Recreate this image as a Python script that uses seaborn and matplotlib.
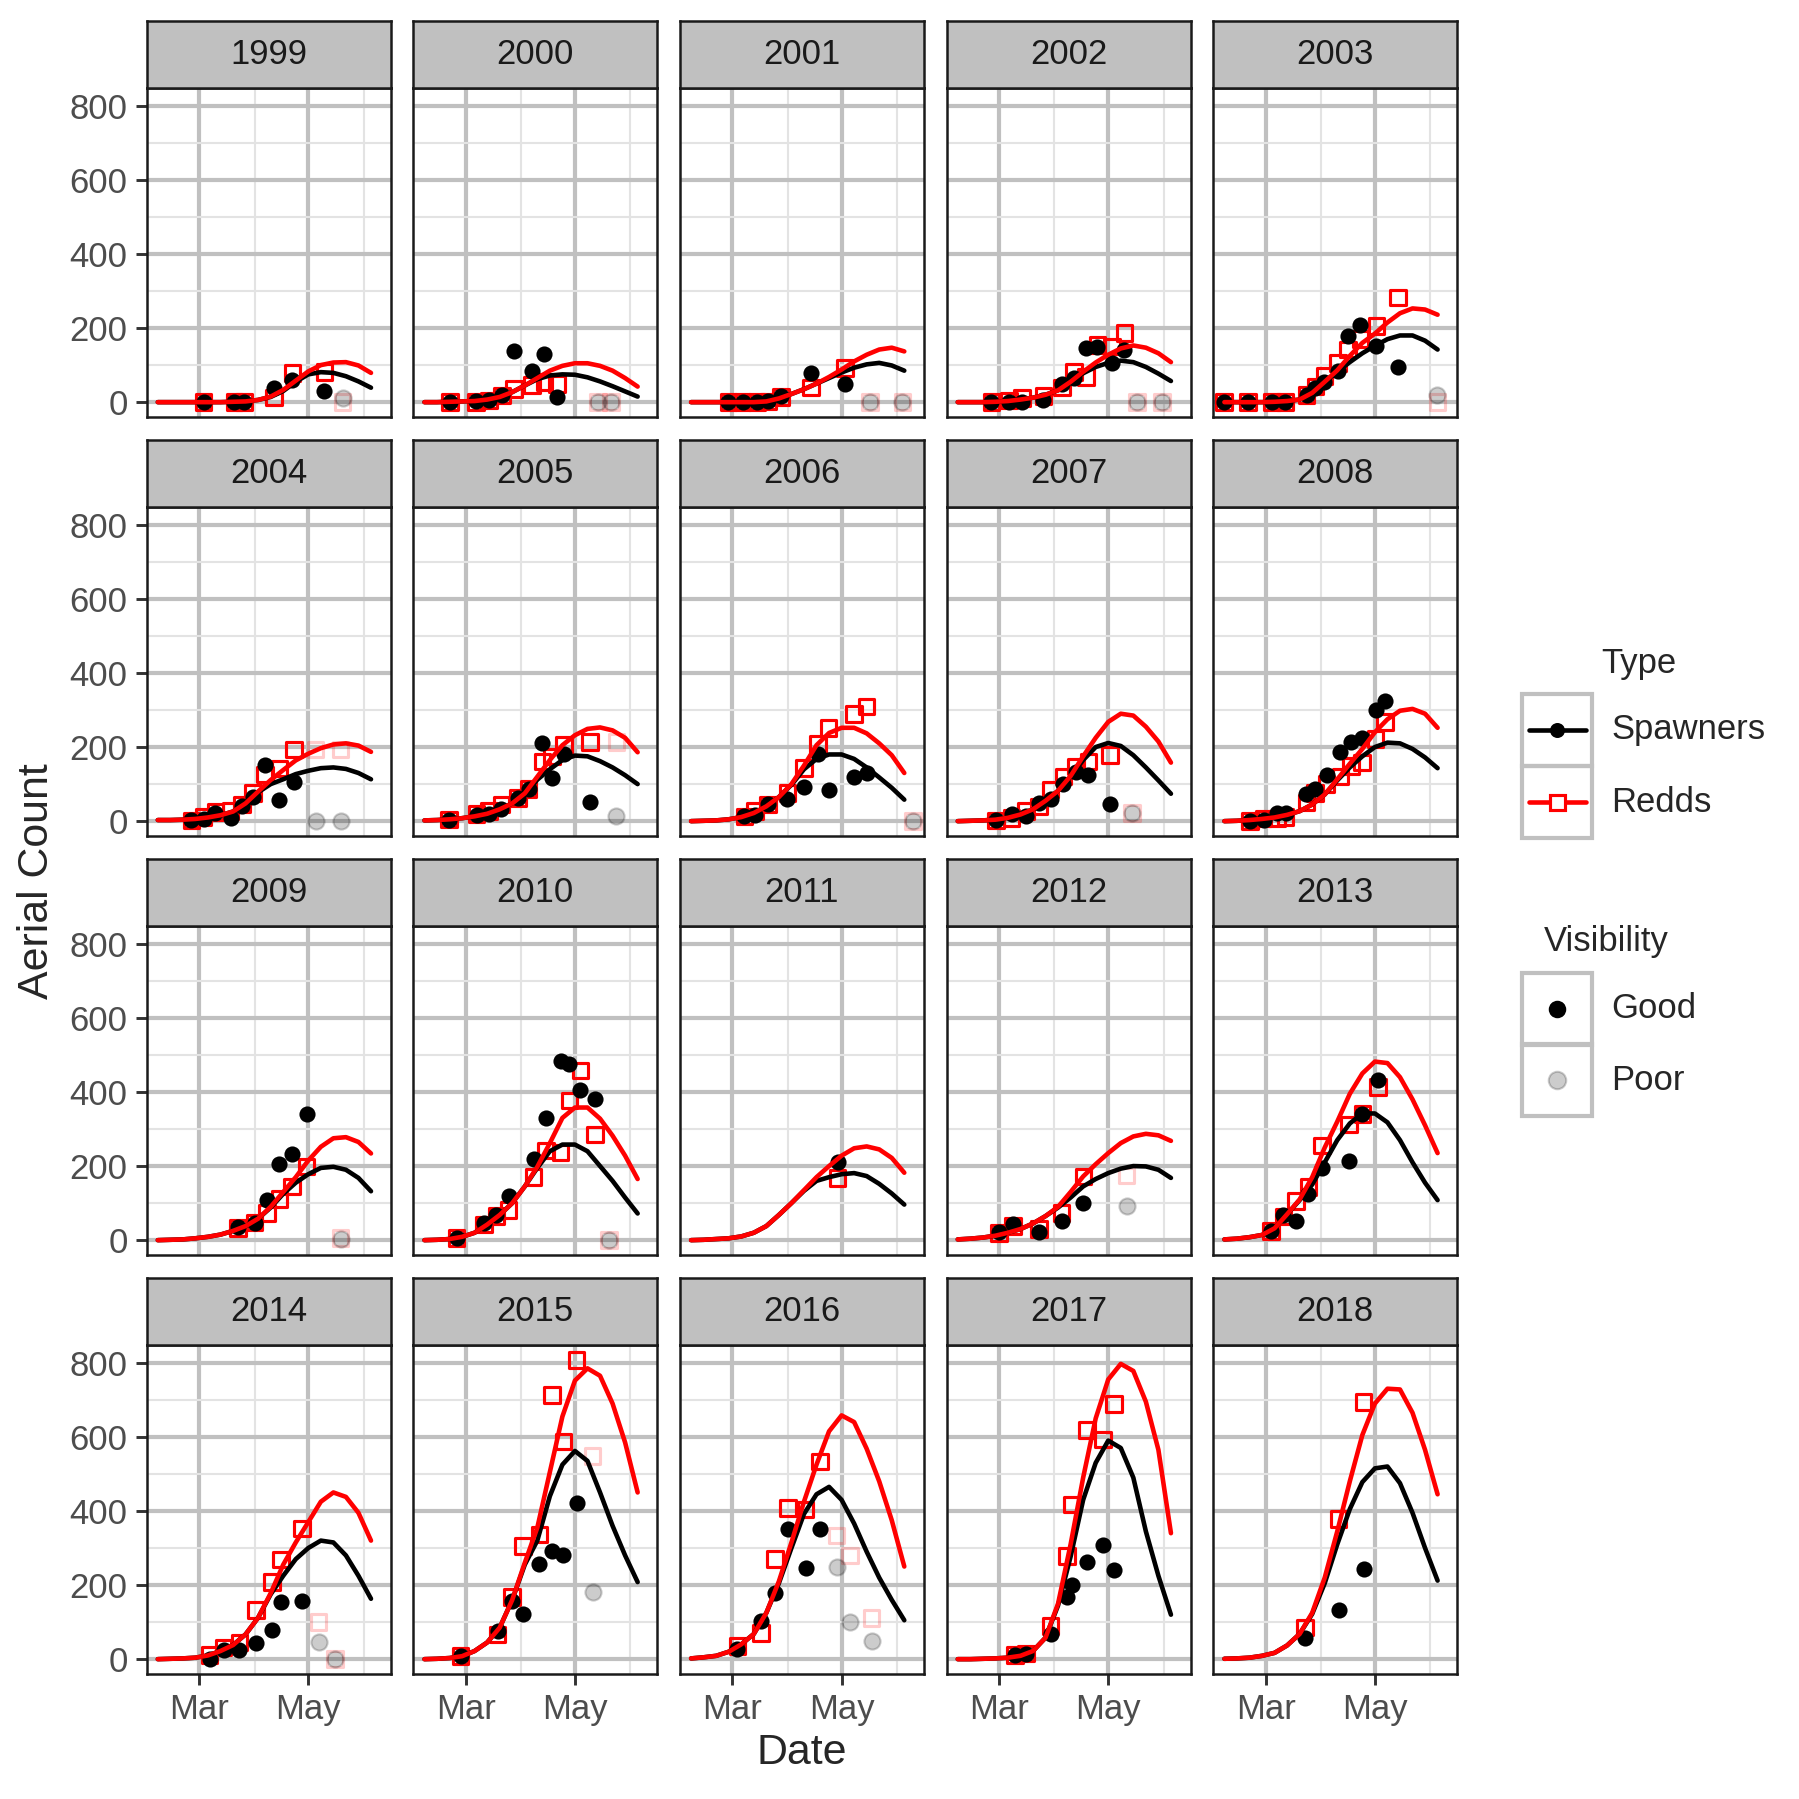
import matplotlib
matplotlib.use("Agg")
import matplotlib.pyplot as plt
from matplotlib.patches import Rectangle
import pandas as pd
import seaborn as sns

sns.set_style("white")
plt.rcParams['font.family'] = ['Liberation Sans', 'DejaVu Sans']

years = list(range(1999, 2019))

# fitted curves, read on a weekly day-of-year grid
curve_days = [37, 44, 51, 58, 65, 72, 79, 86, 93, 100, 107, 114, 121, 128, 135, 142, 149, 156]

spawner_curve = [
    [0, 0, 0, 0, 0, 0, 1, 2, 6, 14, 30, 55, 75, 81, 79, 70, 56, 39],
    [0, 0, 1, 2, 3, 7, 14, 27, 45, 62, 72, 75, 74, 67, 56, 43, 29, 15],
    [0, 0, 0, 0, 0, 0, 2, 10, 22, 35, 50, 65, 80, 93, 102, 106, 99, 85],
    [0, 0, 0, 1, 3, 7, 12, 20, 32, 55, 78, 95, 106, 112, 108, 95, 77, 57],
    [0, 0, 0, 0, 1, 3, 7, 25, 55, 82, 108, 132, 152, 170, 180, 180, 166, 142],
    [3, 3, 4, 6, 10, 16, 26, 48, 78, 100, 113, 127, 136, 143, 145, 141, 130, 113],
    [2, 3, 5, 8, 13, 20, 32, 48, 72, 112, 140, 165, 177, 175, 162, 145, 124, 100],
    [0, 1, 2, 5, 11, 22, 40, 65, 98, 140, 168, 180, 180, 168, 145, 118, 90, 58],
    [0, 1, 2, 4, 9, 18, 32, 55, 82, 120, 165, 200, 211, 203, 178, 145, 110, 74],
    [0, 1, 3, 6, 10, 17, 27, 45, 72, 110, 145, 175, 200, 212, 210, 195, 172, 143],
    [0, 1, 2, 5, 9, 15, 25, 38, 58, 88, 125, 155, 178, 195, 198, 190, 168, 132],
    [0, 1, 3, 9, 20, 42, 68, 100, 145, 195, 240, 258, 258, 240, 200, 160, 115, 72],
    [0, 1, 3, 5, 10, 20, 38, 68, 100, 133, 160, 170, 178, 181, 173, 152, 126, 96],
    [2, 4, 7, 12, 20, 30, 45, 65, 88, 115, 145, 165, 181, 193, 200, 199, 190, 168],
    [2, 4, 8, 14, 32, 70, 108, 150, 210, 270, 315, 342, 342, 318, 270, 210, 155, 108],
    [0, 1, 2, 4, 10, 22, 38, 67, 112, 175, 225, 270, 300, 320, 315, 280, 225, 163],
    [0, 1, 3, 8, 22, 45, 85, 160, 255, 320, 440, 525, 562, 535, 450, 360, 280, 208],
    [2, 5, 9, 20, 40, 68, 125, 205, 300, 392, 445, 465, 430, 366, 290, 220, 160, 105],
    [0, 0, 1, 2, 4, 9, 22, 58, 145, 277, 430, 530, 590, 570, 490, 345, 225, 120],
    [1, 2, 4, 9, 17, 37, 68, 122, 205, 310, 405, 478, 515, 520, 475, 395, 300, 212],
]

redd_curve = [
    [0, 0, 0, 0, 0, 0, 1, 2, 6, 15, 33, 58, 83, 100, 107, 108, 99, 79],
    [0, 0, 1, 2, 3, 7, 14, 27, 45, 65, 85, 98, 105, 105, 98, 85, 65, 42],
    [0, 0, 0, 0, 0, 0, 2, 10, 22, 35, 50, 68, 88, 110, 128, 142, 147, 137],
    [0, 0, 0, 1, 3, 7, 12, 20, 32, 55, 82, 107, 128, 145, 153, 147, 132, 108],
    [0, 0, 0, 0, 1, 3, 7, 25, 55, 86, 125, 160, 185, 215, 240, 253, 250, 236],
    [3, 3, 4, 6, 10, 16, 26, 48, 80, 111, 138, 164, 182, 197, 207, 210, 204, 187],
    [2, 3, 5, 8, 13, 20, 32, 48, 75, 120, 165, 205, 232, 249, 253, 245, 225, 186],
    [0, 1, 2, 5, 11, 22, 40, 65, 100, 150, 205, 238, 252, 252, 237, 210, 178, 130],
    [0, 1, 2, 4, 9, 18, 32, 55, 82, 122, 175, 225, 268, 290, 285, 255, 215, 158],
    [0, 1, 3, 6, 10, 17, 27, 45, 72, 113, 155, 195, 240, 275, 298, 303, 290, 252],
    [0, 1, 2, 5, 9, 15, 25, 38, 58, 90, 130, 170, 215, 252, 275, 278, 265, 234],
    [0, 1, 3, 9, 20, 42, 68, 100, 145, 198, 262, 330, 358, 358, 328, 282, 228, 165],
    [0, 1, 3, 5, 10, 20, 38, 68, 100, 135, 170, 200, 228, 248, 253, 245, 222, 182],
    [2, 4, 7, 12, 20, 30, 45, 65, 90, 130, 172, 205, 235, 262, 280, 287, 283, 268],
    [2, 4, 8, 14, 32, 70, 110, 170, 250, 320, 395, 450, 482, 478, 440, 380, 310, 235],
    [0, 1, 2, 4, 10, 22, 38, 67, 112, 178, 255, 315, 370, 425, 450, 438, 395, 320],
    [0, 1, 3, 8, 22, 45, 85, 160, 260, 355, 505, 655, 752, 785, 765, 690, 585, 450],
    [2, 5, 9, 20, 40, 68, 125, 210, 315, 425, 525, 615, 658, 640, 568, 480, 375, 250],
    [0, 0, 1, 2, 4, 9, 22, 58, 150, 310, 490, 650, 755, 797, 778, 695, 565, 340],
    [1, 2, 4, 9, 17, 37, 68, 125, 220, 345, 480, 605, 690, 730, 728, 665, 565, 445],
]

# flights with good visibility: day of year, spawner count, redd count
survey_day = [
    [62.6, 79.7, 85, 101.8, 112.1, 130],
    [51.1, 65.9, 72.9, 80.2, 87.1, 97, 104, 111],
    [57.8, 65.7, 73.7, 80.2, 87.1, 104, 123],
    [55.8, 65.7, 72.7, 84.8, 95.1, 101.8, 108.5, 114.9, 123, 130],
    [36.9, 50.3, 63.7, 70.7, 82.9, 87.8, 92.8, 100.3, 106, 112.9, 121.8, 133.8],
    [55.7, 62.6, 69.1, 77.6, 83.9, 90, 96.9, 104.9, 113],
    [50.8, 66.1, 72.9, 79.9, 89.2, 95.1, 102.8, 108.1, 114.9, 129.3],
    [66.7, 72.6, 80, 90.7, 99.9, 107.7, 113.8, 128, 135],
    [58.2, 67, 75, 82.2, 88.8, 96, 103, 109.9, 121.9],
    [51.2, 58.9, 66.3, 71.2, 82.8, 87.7, 94, 101.8, 107.5, 113.7, 121.4, 126.5],
    [81.7, 91, 97.8, 104.9, 111.9, 120.1],
    [55, 70.2, 77.2, 84, 97.9, 104.8, 113, 117.9, 124.1, 132.1],
    [118.8],
    [60, 68, 82.2, 95, 107.1],
    [63.1, 69.9, 76.9, 83.9, 91.6, 106.7, 114, 122.7],
    [65.9, 73.7, 82.6, 91.9, 100.8, 105.7, 117.6],
    [57.2, 77.8, 86, 92.1, 101.2, 108.1, 114.5, 121.9],
    [62.8, 75.9, 83.7, 91, 100.9, 109],
    [68.9, 75, 88.8, 97.9, 100.8, 109, 118, 124.3],
    [81.9, 100.8, 114.7],
]
spawner_count = [
    [0, 0, 0, 37, 61, 29],
    [0, 2, 7, 18, 137, 85, 130, 14],
    [0, 0, 0, 3, 16, 79, 49],
    [0, 0, 0, 7, 50, 66, 145, 148, 106, 142],
    [0, 0, 0, 0, 19, 39, 55, 85, 179, 209, 151, 95],
    [2, 6, 22, 9, 42, 65, 152, 58, 105],
    [4, 16, 20, 32, 63, 88, 211, 117, 181, 53],
    [13, 16, 45, 61, 92, 181, 83, 119, 130],
    [2, 20, 13, 49, 61, 99, 133, 124, 45],
    [0, 4, 21, 21, 72, 86, 125, 186, 214, 225, 300, 324],
    [36, 45, 109, 206, 232, 340],
    [6, 47, 69, 118, 220, 330, 484, 475, 405, 381],
    [211],
    [22, 44, 22, 51, 100],
    [25, 68, 51, 124, 196, 213, 340, 432],
    [0, 26, 24, 44, 79, 153, 156],
    [8, 77, 156, 121, 257, 292, 280, 422],
    [27, 102, 179, 350, 246, 352],
    [11, 15, 69, 168, 201, 262, 307, 240],
    [58, 134, 244],
]
redd_count = [
    [0, 0, 0, 13, 79, 81],
    [0, 0, 4, 18, 36, 46, 54, 49],
    [0, 0, 0, 2, 14, 39, 92],
    [0, 4, 12, 16, 39, 81, 68, 155, 150, 187],
    [0, 0, 0, 0, 19, 42, 70, 105, 142, 170, 205, 283],
    [2, 11, 25, 27, 45, 76, 126, 142, 193],
    [4, 20, 27, 45, 63, 87, 161, 175, 206, 213],
    [13, 27, 45, 76, 144, 208, 251, 289, 310],
    [2, 9, 27, 40, 85, 121, 148, 161, 179],
    [0, 7, 7, 11, 50, 76, 100, 120, 149, 158, 221, 267],
    [33, 48, 74, 111, 145, 199],
    [6, 42, 65, 81, 170, 242, 237, 377, 458, 285],
    [168],
    [20, 38, 30, 74, 172],
    [25, 64, 106, 143, 255, 312, 340, 413],
    [12, 32, 45, 132, 209, 269, 353],
    [8, 66, 167, 306, 337, 713, 587, 808],
    [35, 71, 270, 408, 404, 534],
    [11, 15, 90, 279, 418, 618, 593, 688],
    [85, 379, 694],
]

# flights with poor visibility
poor_day = [
    [140.2], [134, 141.2], [137, 154.9], [137, 150.9], [155.9],
    [125.1, 139], [144.1], [160.7], [134.1], [],
    [139], [140], [], [131.2], [],
    [126.7, 136], [130.9], [118.2, 125.8, 137.8], [], [],
]
poor_spawner = [
    [11], [0, 0], [0, 0], [0, 0], [19],
    [0, 0], [15], [0], [22], [],
    [4], [0], [], [93], [],
    [45, 0], [181], [249, 99, 49], [], [],
]
poor_redd = [
    [0], [0, 0], [0, 0], [0, 0], [0],
    [193, 193], [213], [0], [22], [],
    [6], [0], [], [174], [],
    [100, 0], [549], [334, 280, 111], [], [],
]

# long tables for seaborn
curves = []
obs = []
for i, yr in enumerate(years):
    for d, s, r in zip(curve_days, spawner_curve[i], redd_curve[i]):
        curves.append((yr, d, s, 'Spawners'))
        curves.append((yr, d, r, 'Redds'))
    for d, s, r in zip(survey_day[i], spawner_count[i], redd_count[i]):
        obs.append((yr, d, s, 'Spawners', 'Good'))
        obs.append((yr, d, r, 'Redds', 'Good'))
    for d, s, r in zip(poor_day[i], poor_spawner[i], poor_redd[i]):
        obs.append((yr, d, s, 'Spawners', 'Poor'))
        obs.append((yr, d, r, 'Redds', 'Poor'))
curves = pd.DataFrame(curves, columns=['year', 'day', 'count', 'type'])
obs = pd.DataFrame(obs, columns=['year', 'day', 'count', 'type', 'vis'])

W = H = 1799
fig = plt.figure(figsize=(W / 300, H / 300), dpi=300)


def rect(x0, y0, w, h):
    return [x0 / W, 1 - (y0 + h) / H, w / W, h / H]


pal = {'Spawners': 'black', 'Redds': '#FF0000'}
col_x = [146.7 + 266.65 * c for c in range(5)]
row_y = [88 + 419.0 * r for r in range(4)]
pw, ph, sh = 244, 328.6, 67
dot_s, sq_s = 15, 14

for i, yr in enumerate(years):
    r, c = divmod(i, 5)
    ax = fig.add_axes(rect(col_x[c], row_y[r], pw, ph))
    ax.set_axisbelow(True)
    ax.set_xlim(30.8, 167)
    ax.set_ylim(-39, 848)
    ax.set_xticks([60, 121])
    ax.set_xticks([91, 152], minor=True)
    ax.set_yticks([0, 200, 400, 600, 800])
    ax.set_yticks([100, 300, 500, 700], minor=True)
    ax.set_xticklabels(['Mar', 'May'])
    ax.grid(which='major', color='#C0C0C0', lw=1.0)
    ax.grid(which='minor', color='#E3E3E3', lw=0.5)
    ax.tick_params(which='minor', length=0)
    ax.tick_params(which='major', length=2.6, width=0.7, color='#333333',
                   labelsize=8.3, labelcolor='#4D4D4D', pad=2)
    ax.tick_params(axis='x', bottom=(r == 3), labelbottom=(r == 3))
    ax.tick_params(axis='y', left=(c == 0), labelleft=(c == 0))
    for sp in ax.spines.values():
        sp.set_color('#1A1A1A')
        sp.set_linewidth(0.6)

    cv = curves[curves['year'] == yr]
    sns.lineplot(data=cv, x='day', y='count', hue='type', palette=pal,
                 hue_order=['Spawners', 'Redds'], estimator=None, sort=False,
                 lw=1.1, legend=False, ax=ax)

    ob = obs[obs['year'] == yr]
    poor = ob[ob['vis'] == 'Poor']
    good = ob[ob['vis'] == 'Good']
    sns.scatterplot(data=poor[poor['type'] == 'Redds'], x='day', y='count',
                    marker='s', s=sq_s, facecolor='none', edgecolor=(1, 0, 0, 0.2),
                    linewidth=0.75, legend=False, ax=ax)
    sns.scatterplot(data=poor[poor['type'] == 'Spawners'], x='day', y='count',
                    marker='o', s=dot_s, color=(0, 0, 0, 0.2), edgecolor=(0, 0, 0, 0.2),
                    linewidth=0.5, legend=False, ax=ax)
    sns.scatterplot(data=good[good['type'] == 'Redds'], x='day', y='count',
                    marker='s', s=sq_s, facecolor='none', edgecolor='#FF0000',
                    linewidth=0.75, legend=False, ax=ax)
    sns.scatterplot(data=good[good['type'] == 'Spawners'], x='day', y='count',
                    marker='o', s=dot_s, color='black', linewidth=0, legend=False, ax=ax)
    ax.set_xlabel('')
    ax.set_ylabel('')

    st = fig.add_axes(rect(col_x[c], row_y[r] - sh, pw, sh))
    st.set_facecolor('#C0C0C0')
    st.set_xticks([])
    st.set_yticks([])
    for sp in st.spines.values():
        sp.set_color('#1A1A1A')
        sp.set_linewidth(0.6)
    st.text(0.5, 0.5, str(yr), ha='center', va='center', fontsize=8.3,
            color='#1A1A1A', transform=st.transAxes)

fig.text(802 / W, 1 - 1753 / H, 'Date', ha='center', va='center', fontsize=10.3)
fig.text(36.7 / W, 1 - 881 / H, 'Aerial Count', ha='center', va='center',
         fontsize=10.3, rotation=90)

# legends, drawn in pixel coordinates
lg = fig.add_axes([0, 0, 1, 1])
lg.set_xlim(0, W)
lg.set_ylim(H, 0)
lg.axis('off')
lg.patch.set_alpha(0)

kx, kw = 1522, 70
keys = [(694, 'Spawners'), (766, 'Redds'), (973, 'Good'), (1044, 'Poor')]
for ky, lab in keys:
    lg.add_patch(Rectangle((kx, ky), kw, 72, fill=False, edgecolor='#C0C0C0', lw=1.0))
    cy = ky + 36
    if lab == 'Spawners':
        lg.plot([kx + 7, kx + 64], [cy, cy], color='black', lw=1.1)
        lg.plot(kx + 35, cy, 'o', ms=3.6, color='black', mew=0)
    elif lab == 'Redds':
        lg.plot([kx + 7, kx + 64], [cy, cy], color='#FF0000', lw=1.1)
        lg.plot(kx + 35, cy, 's', ms=3.6, mfc='white', mec='#FF0000', mew=0.75)
    elif lab == 'Good':
        lg.plot(kx + 35, cy, 'o', ms=4.2, color='black', mew=0)
    else:
        lg.plot(kx + 35, cy, 'o', ms=4.2, mfc=(0, 0, 0, 0.2), mec=(0, 0, 0, 0.2), mew=0.5)
    lg.text(1611, cy, lab, ha='left', va='center', fontsize=8.3)

lg.text(1639, 663, 'Type', ha='center', va='center', fontsize=8.3)
lg.text(1606, 941, 'Visibility', ha='center', va='center', fontsize=8.3)

fig.savefig('out.png', dpi=300)
